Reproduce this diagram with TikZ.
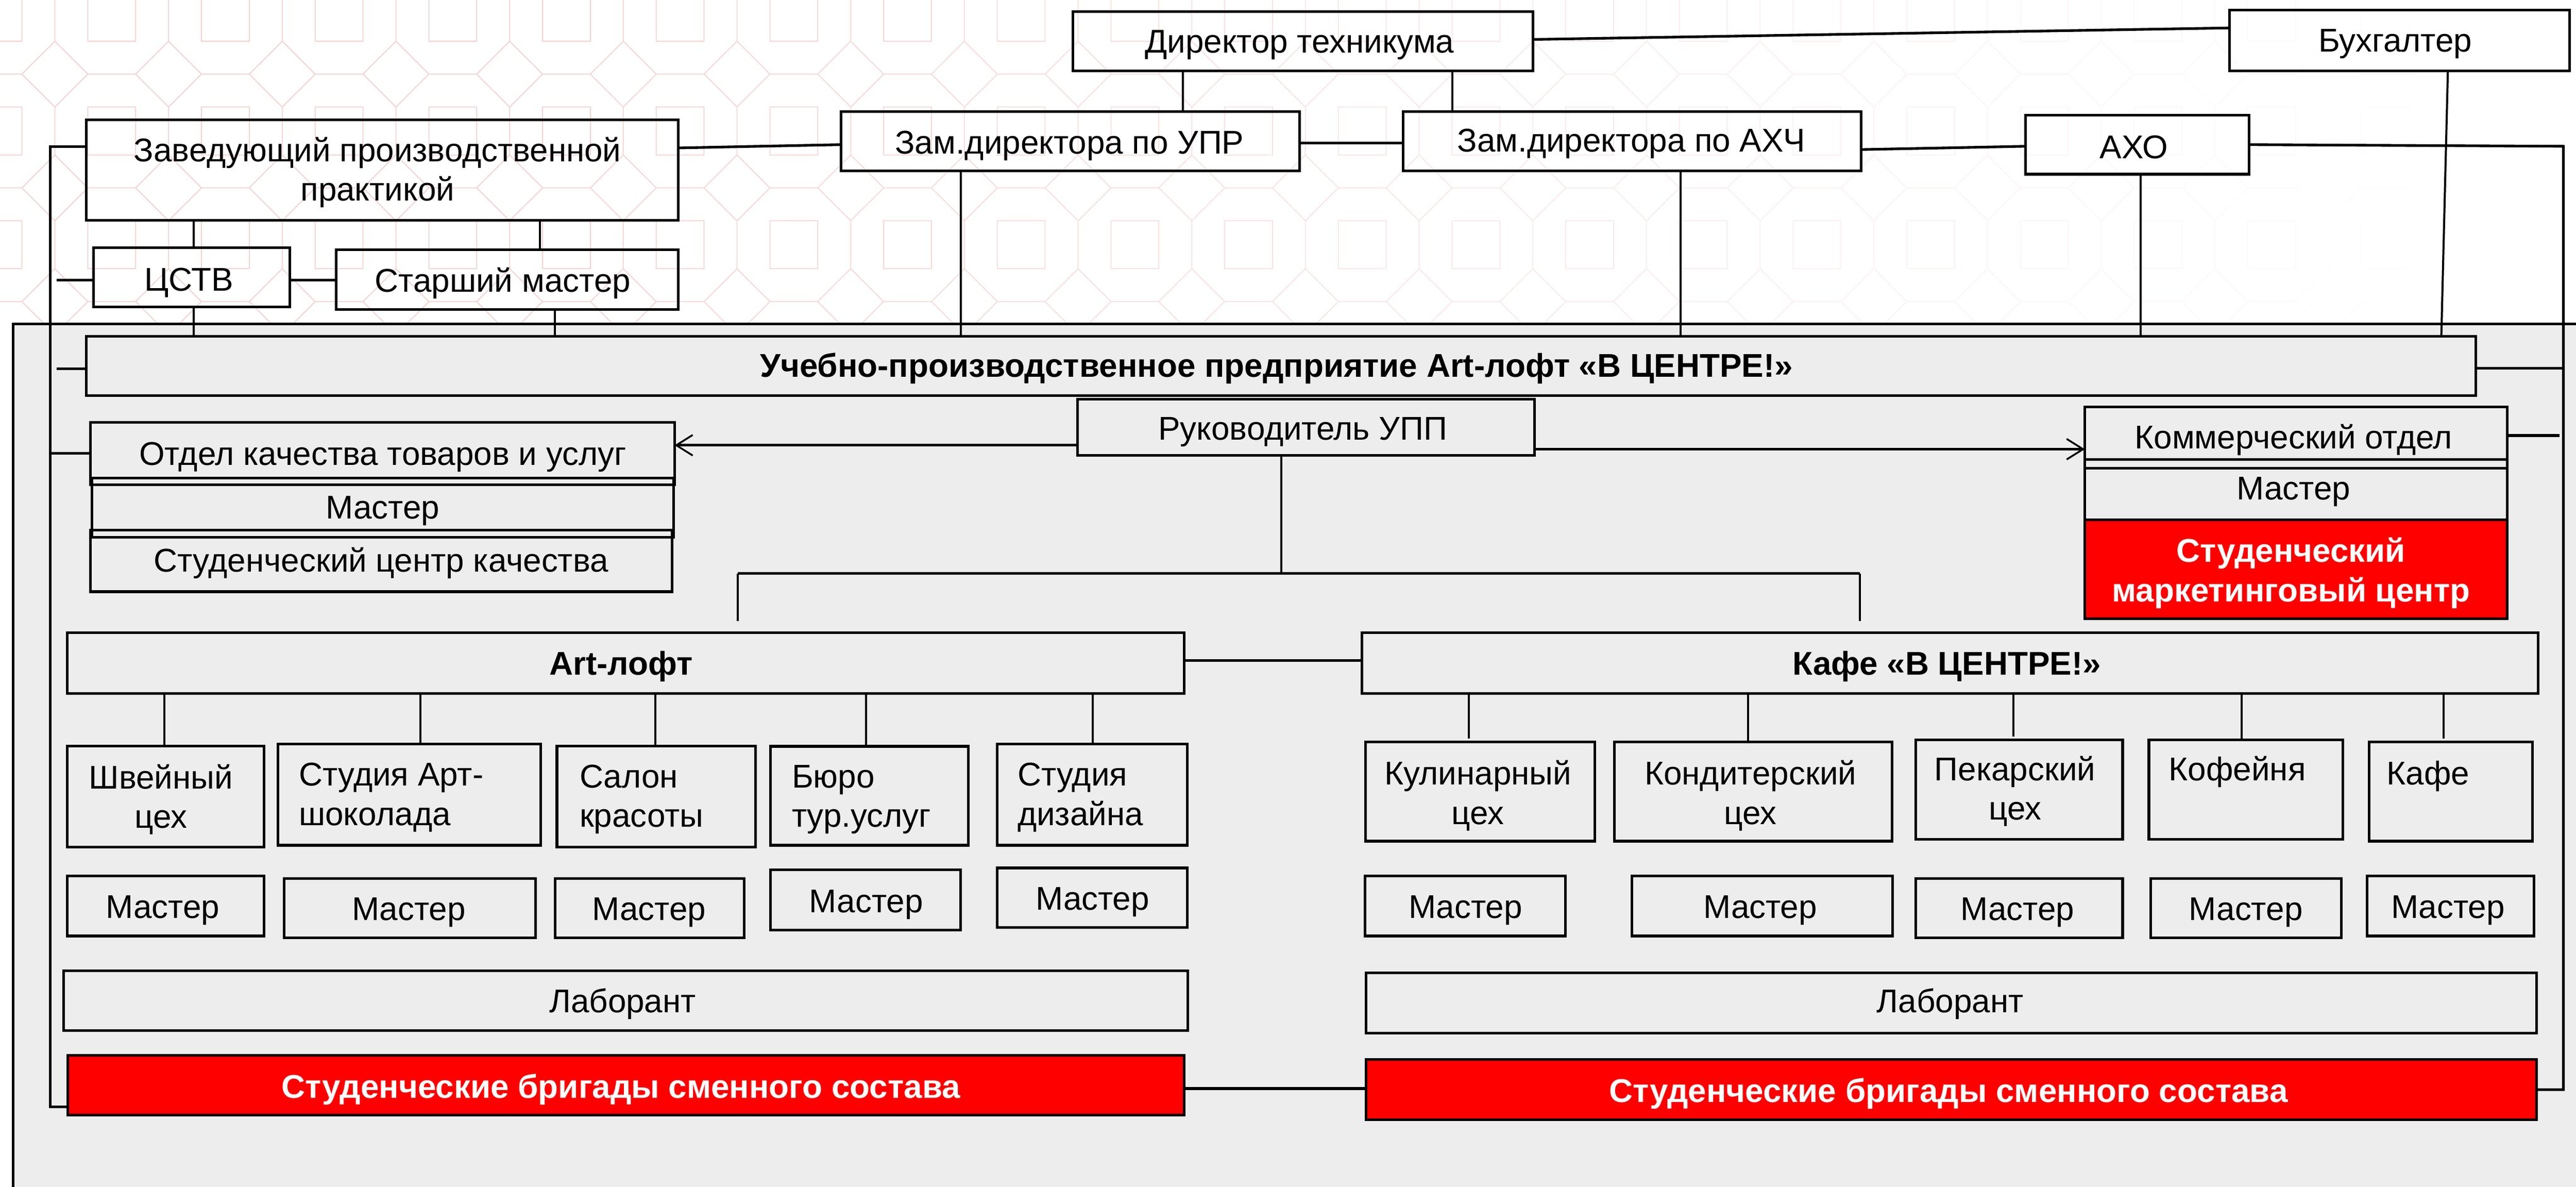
\documentclass[tikz,border=0pt]{standalone}
\usepackage{fontspec}
\setmainfont{Liberation Sans}
\usetikzlibrary{arrows.meta}
\definecolor{panel}{HTML}{EDEDED}
\definecolor{alarm}{HTML}{FF0000}
\definecolor{patt}{HTML}{E03C3C}
\tikzset{
  boxx/.style={draw=black,line width=1.6pt,inner sep=0pt,outer sep=0pt},
  redbox/.style={boxx,fill=alarm},
  lab/.style={inner sep=0pt,outer sep=0pt,anchor=base,font=\fontsize{20}{24}\selectfont},
  labm/.style={inner sep=0pt,outer sep=0pt,anchor=center,align=center,font=\fontsize{20}{24}\selectfont},
  labl/.style={labm,align=left,anchor=west},
  strong/.style={font=\fontsize{20}{24}\selectfont\bfseries},
  inv/.style={text=white,font=\fontsize{20}{24}\selectfont\bfseries},
  thick line/.style={draw=black,line width=1.6pt},
  thin line/.style={draw=black,line width=1.25pt},
  barb/.style={thick line,-{Straight Barb[length=10pt,width=12.5pt,line width=1.1pt]}},
}
\newcommand\bx[6][boxx]{%
  \pgfmathsetmacro\cxx{(#3+#5)/2}\pgfmathsetmacro\cyy{(#4+#6)/2}%
  \node[#1,minimum width={(#5-#3)*1pt},minimum height={(#6-#4)*1pt}] (#2) at (\cxx,\cyy) {};}
\newcommand\tx[5][]{\node[lab,#1] (#2) at (#3,#4) {#5};}
\newcommand\txm[5][]{\node[labm,#1] (#2) at (#3,#4) {#5};}
\newcommand\txl[5][]{\node[labl,#1] (#2) at (#3,#4) {#5};}
\begin{document}
\begin{tikzpicture}[x=1pt,y=-1pt]
\useasboundingbox (0,0) rectangle (1568,722.2);
\fill[white] (0,0) rectangle (1568,722.2);
% background pattern, fading to the right
\begin{scope}
\clip (0,0) rectangle (1568,198);
\foreach \i in {-1,...,22}{
  \foreach \j in {-1,0,1,2}{
    \pgfmathsetmacro\ox{33.4+69.2*\i}
    \pgfmathsetmacro\oy{45.1+69.2*\j}
    \pgfmathsetmacro\fd{max(0,min(25,32*(1-\ox/1480)))}
    \begin{scope}[shift={(\ox pt,-\oy pt)}]
      \draw[patt!\fd!white,line width=.55pt,line join=miter]
        (0,20) -- (0,49.2)
        (0,-20) -- (20.05,0) -- (0,20) -- (-20.05,0) -- cycle
        (20.05,0) -- (49.15,0)
        (20.05,20) rectangle (49.15,49.2);
    \end{scope}
  }
}
\end{scope}
\fill[panel] (8,197) rectangle (1568,722.2);
\draw[thick line] (8,722.2) -- (8,197) -- (1568,197);
% boxes
\bx{dir}{653}{7}{933}{43}
\bx{buh}{1357}{6}{1564}{43}
\bx{upr}{512}{68}{791}{104}
\bx{ahc}{854}{68}{1133}{104}
\bx{aho}{1233}{70}{1369}{106}
\bx{zav}{52.5}{72.8}{412.8}{134.2}
\bx{cstv}{56.8}{150.7}{176.5}{186.8}
\bx{star}{204.6}{152}{412.8}{188.4}
\bx{upp}{52.5}{204.7}{1507}{240.6}
\bx{ruk}{656}{243}{934}{277}
\bx{otd}{55}{257}{410.6}{295}
\bx{otdm}{56}{291}{410}{327}
\bx{scq}{55}{322.5}{409}{360}
\bx{kom}{1269}{247.6}{1526}{285}
\bx{komm}{1269}{279.7}{1526}{316.2}
\bx[redbox]{smc}{1269}{316.2}{1526}{376.5}
\bx{art}{41}{385}{720.7}{422}
\bx{caf}{829}{385}{1545}{422}
\bx{w1}{40.8}{454}{160.8}{515.5}
\bx{w2}{169.3}{452.7}{329}{514.3}
\bx{w3}{339}{454}{460}{515.5}
\bx{w4}{468.9}{454.1}{589.5}{514.3}
\bx{w5}{606.9}{452.7}{722.6}{514.3}
\bx{m1}{40.8}{533}{160.8}{569.5}
\bx{m2}{173}{534.4}{326}{570.6}
\bx{m3}{338}{534.4}{453}{570.6}
\bx{m4}{468.9}{529.3}{584.7}{565.8}
\bx{m5}{606.9}{528.1}{722.6}{564.4}
\bx{k1}{831.3}{451.5}{970.8}{511.8}
\bx{k2}{982.7}{451.5}{1151.7}{511.8}
\bx{k3}{1166}{450.2}{1292}{510.6}
\bx{k4}{1308}{450.2}{1426}{510.6}
\bx{k5}{1442}{451.5}{1541.6}{511.8}
\bx{n1}{831}{533}{953}{569.5}
\bx{n2}{993.4}{533}{1152}{569.5}
\bx{n3}{1166}{534.4}{1292}{570.6}
\bx{n4}{1309}{534.4}{1425}{570.6}
\bx{n5}{1440.8}{533}{1542.3}{569.5}
\bx{la}{38.7}{590.7}{722.9}{627}
\bx{lab}{831.5}{592}{1544}{628.5}
\bx[redbox]{ra}{41.3}{642}{720.7}{678.5}
\bx[redbox]{rb}{831.5}{644.7}{1544}{681.2}
% texts
\tx{tdir}{791}{32}{Директор техникума}
\tx{tbuh}{1458}{31.5}{Бухгалтер}
\tx{tupr}{651}{93.5}{Зам.директора по УПР}
\tx{tahc}{993}{92.5}{Зам.директора по АХЧ}
\tx{taho}{1299}{96.5}{АХО}
\txm{tzav}{229.8}{104.9}{Заведующий производственной\\практикой}
\tx{tcstv}{115}{177}{ЦСТВ}
\tx{tstar}{306}{177.5}{Старший мастер}
\tx[strong]{tupp}{777}{229.5}{Учебно-производственное предприятие Art-лофт «В ЦЕНТРЕ!»}
\tx{truk}{793}{267.5}{Руководитель УПП}
\tx{totd}{233}{283}{Отдел качества товаров и услуг}
\tx{totdm}{233}{315.5}{Мастер}
\tx{tscq}{232}{348}{Студенческий центр качества}
\tx{tkom}{1396}{273}{Коммерческий отдел}
\tx{tkomm}{1396}{304}{Мастер}
\txm[inv]{tsmc}{1394.5}{348.7}{Студенческий\\маркетинговый центр}
\tx[strong]{tart}{378}{410.5}{Art-лофт}
\tx[strong]{tcaf}{1185}{410.5}{Кафе «В ЦЕНТРЕ!»}
\txm{tw1}{98}{486.4}{Швейный\\цех}
\txl{tw2}{182}{485.2}{Студия Арт-\\шоколада}
\txl{tw3}{352.8}{486.4}{Салон\\красоты}
\txl{tw4}{482}{486.4}{Бюро\\тур.услуг}
\txl{tw5}{619.4}{485.2}{Студия\\дизайна}
\txm{tk1}{899.6}{484.1}{Кулинарный\\цех}
\txm{tk2}{1065.5}{484.1}{Кондитерский\\цех}
\txm{tk3}{1226.5}{481.5}{Пекарский\\цех}
\tx{tk4}{1361.8}{474.8}{Кофейня}
\tx{tk5}{1478}{477.4}{Кафе}
\tx{tm1}{99}{558.7}{Мастер}
\tx{tm2}{248.8}{560}{Мастер}
\tx{tm3}{395}{560}{Мастер}
\tx{tm4}{527.2}{555.2}{Мастер}
\tx{tm5}{665}{553.8}{Мастер}
\tx{tn1}{892}{558.7}{Мастер}
\tx{tn2}{1071.4}{558.7}{Мастер}
\tx{tn3}{1228}{560}{Мастер}
\tx{tn4}{1367}{560}{Мастер}
\tx{tn5}{1490}{558.7}{Мастер}
\tx{tla}{379}{616}{Лаборант}
\tx{tlb}{1187}{616}{Лаборант}
\tx[inv]{tra}{378}{668}{Студенческие бригады сменного состава}
\tx[inv]{trb}{1186}{670.7}{Студенческие бригады сменного состава}
% side buses
\coordinate (lt) at (30.5,89.1);
\coordinate (lbot) at (30.5,673.5);
\coordinate (lc) at (34.4,170.5);
\coordinate (ld) at (34.4,224.5);
\coordinate (le) at (30.5,275.8);
\coordinate (rtop) at (1560.3,89);
\coordinate (rbot) at (1560.3,663);
\coordinate (rd) at (1560.3,224);
\coordinate (re) at (1558,265);
\coordinate (ha) at (449,348.9);
\coordinate (hb) at (1132,348.9);
\coordinate (haa) at (449,378);
\coordinate (hbb) at (1132,378);
\coordinate (hc) at (780,348.9);
% connectors
\draw[thick line] (dir.east |- 0,24) -- (buh.west |- 0,17);
\draw[thick line] (upr.east |- 0,87) -- (ahc.west |- 0,87);
\draw[thick line] (zav.east |- 0,90) -- (upr.west |- 0,88);
\draw[thick line] (ahc.east |- 0,91) -- (aho.west |- 0,89);
\draw[thick line] (aho.east |- 0,88) -- (rtop) -- (rbot) -- (rb.east |- rbot);
\draw[thick line] (zav.west |- lt) -- (lt) -- (lbot) -- (ra.west |- lbot);
\draw[thick line] (lc) -- (cstv.west |- lc);
\draw[thick line] (ld) -- (upp.west |- ld);
\draw[thick line] (le) -- (otd.west |- le);
\draw[thick line] (upp.east |- rd) -- (rd);
\draw[thick line] (kom.east |- re) -- (re);
\draw[thick line] (cstv.east |- 0,170.5) -- (star.west |- 0,170.5);
\draw[thick line] (art.east |- 0,402) -- (caf.west |- 0,402);
\draw[thick line] (ra.east |- 0,662.3) -- (rb.west |- 0,662.3);
\foreach \a/\b/\x in {dir/upr/720,dir/ahc/884,upr/upp/585,ahc/upp/1023,aho/upp/1303,zav/cstv/118,zav/star/328.5,cstv/upp/118,star/upp/337.7,
  art/w1/100,art/w2/256,art/w3/399,art/w4/527,art/w5/665,caf/k2/1064,caf/k4/1364.5}{
  \draw[thin line] (\a.south -| \x,0) -- (\b.north -| \x,0);
}
\foreach \a/\b/\x in {caf/k1/894,caf/k3/1225.6,caf/k5/1487.3}{
  \draw[thin line,shorten >=2.2pt] (\a.south -| \x,0) -- (\b.north -| \x,0);
}
\draw[thin line] (buh.south -| 1490,0) -- (upp.north -| 1486,0);
\draw[thin line] (ruk.south -| hc) -- (hc);
\draw[thick line] (ha) -- (hb);
\draw[thin line] (ha) -- (haa);
\draw[thin line] (hb) -- (hbb);
\draw[barb] (ruk.west |- 0,270.9) -- (otd.east |- 0,270.9);
\draw[barb] (ruk.east |- 0,273.3) -- (kom.west |- 0,273.3);
\end{tikzpicture}
\end{document}
